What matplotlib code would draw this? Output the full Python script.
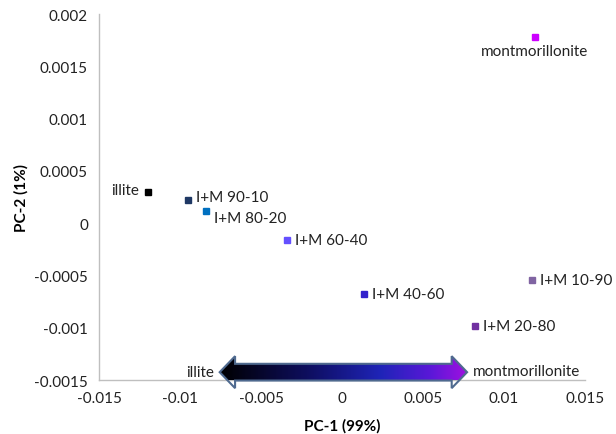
import numpy as np
import matplotlib.pyplot as plt
from matplotlib.path import Path
from matplotlib.patches import PathPatch
from matplotlib.colors import LinearSegmentedColormap

plt.rcParams['font.family'] = ['Lato', 'DejaVu Sans']

# PCA scores
names = ['illite', 'I+M 90-10', 'I+M 80-20', 'I+M 60-40', 'I+M 40-60',
         'I+M 20-80', 'I+M 10-90', 'montmorillonite']
pc1 = [-0.0120, -0.0095, -0.0084, -0.0034, 0.00135, 0.0082, 0.0117, 0.0119]
pc2 = [0.00030, 0.00022, 0.00012, -0.00016, -0.00068, -0.00098, -0.00054, 0.00178]
colors = ['#000000', '#1F3864', '#0070C0', '#6450FF', '#3322CC',
          '#7030A0', '#8064A2', '#CC00FF']

fs = 11
fig = plt.figure(figsize=(6.16, 4.35), dpi=100)
ax = fig.add_axes([0.1607, 0.1241, 0.789, 0.8414])

for name, x, y, c in zip(names, pc1, pc2, colors):
    ax.plot(x, y, 's', color=c, markersize=4.5, zorder=3)
    if name == 'illite':
        off, ha, va = (-6, 1), 'right', 'center'
    elif name == 'montmorillonite':
        off, ha, va = (0, -5), 'center', 'top'
    elif name == 'I+M 90-10':
        off, ha, va = (6, 2), 'left', 'center'
    elif name == 'I+M 80-20':
        off, ha, va = (6, -5), 'left', 'center'
    else:
        off, ha, va = (6, 0), 'left', 'center'
    ax.annotate(name, (x, y), xytext=off, textcoords='offset points',
                ha=ha, va=va, fontsize=fs, color='#222222')

ax.set_xlim(-0.015, 0.015)
ax.set_ylim(-0.0015, 0.002)
ax.set_xticks([-0.015, -0.01, -0.005, 0, 0.005, 0.01, 0.015])
ax.set_xticklabels(['-0.015', '-0.01', '-0.005', '0', '0.005', '0.01', '0.015'])
ax.set_yticks([-0.0015, -0.001, -0.0005, 0, 0.0005, 0.001, 0.0015, 0.002])
ax.set_yticklabels(['-0.0015', '-0.001', '-0.0005', '0', '0.0005', '0.001',
                    '0.0015', '0.002'])
ax.tick_params(length=0, labelsize=fs, colors='#222222', pad=8)
for s in ['top', 'right']:
    ax.spines[s].set_visible(False)
for s in ['left', 'bottom']:
    ax.spines[s].set_color('#BFBFBF')
    ax.spines[s].set_linewidth(1)

ax.set_xlabel('PC-1 (99%)', fontsize=fs, fontweight='bold', labelpad=9)
ax.set_ylabel('PC-2 (1%)', fontsize=fs, fontweight='bold', labelpad=4)

# double-headed gradient arrow from illite to montmorillonite
x0, x1 = -0.00755, 0.00772
yc = -0.001425
hl = 0.00095
hh = 0.000153
sh = 0.000080
verts = [(x0, yc), (x0 + hl, yc + hh), (x0 + hl, yc + sh), (x1 - hl, yc + sh),
         (x1 - hl, yc + hh), (x1, yc), (x1 - hl, yc - hh), (x1 - hl, yc - sh),
         (x0 + hl, yc - sh), (x0 + hl, yc - hh), (x0, yc)]
codes = [Path.MOVETO] + [Path.LINETO] * 9 + [Path.CLOSEPOLY]
arrow = PathPatch(Path(verts, codes), facecolor='none', edgecolor='#4F6A8F',
                  linewidth=1.5, zorder=5, clip_on=False)
ax.add_patch(arrow)
cmap = LinearSegmentedColormap.from_list(
    'arr', [(0, '#000000'), (0.35, '#0E0E5E'), (0.65, '#1F24B8'),
            (0.85, '#5A18D8'), (1, '#A010E0')])
grad = np.linspace(0, 1, 256).reshape(1, -1)
im = ax.imshow(grad, cmap=cmap, aspect='auto',
               extent=[x0, x1, yc - hh, yc + hh], zorder=4)
im.set_clip_path(arrow)
ax.set_xlim(-0.015, 0.015)
ax.set_ylim(-0.0015, 0.002)

ax.annotate('illite', (x0, yc), xytext=(-4, 0), textcoords='offset points',
            ha='right', va='center', fontsize=fs, color='#222222')
ax.annotate('montmorillonite', (x1, yc), xytext=(4, 1), textcoords='offset points',
            ha='left', va='center', fontsize=fs, color='#222222')

fig.savefig('out.png', dpi=100)
